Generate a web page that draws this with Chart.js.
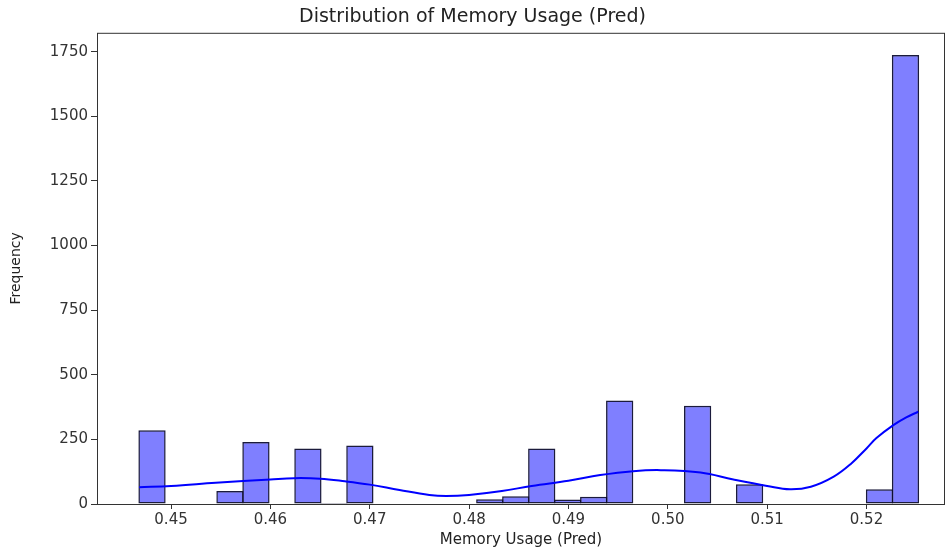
<!DOCTYPE html>
<html>
<head>
<meta charset="utf-8">
<script src="https://cdn.jsdelivr.net/npm/chart.js@4/dist/chart.umd.min.js"></script>
<style>
  html, body { margin: 0; padding: 0; background: #fff; }
  #wrap { width: 947px; height: 551px; }
</style>
</head>
<body>
<div id="wrap"><canvas id="chart"></canvas></div>
<script>
// histogram bins (30 bins)
const binStart = 0.44678;
const binWidth = 0.002615;
const counts = [285, 0, 0, 50, 240, 0, 215, 4, 226, 0, 0, 0, 0, 18, 30, 215, 17, 28, 400, 0, 0, 380, 0, 76, 0, 0, 0, 0, 57, 1737];

// kde curve (scaled to counts)
const kdeX = [0.4468, 0.45, 0.4545, 0.46, 0.4624, 0.465, 0.4675, 0.47, 0.473, 0.476, 0.4777, 0.48, 0.4833, 0.4863,
  0.49, 0.4932, 0.4965, 0.4993, 0.5033, 0.5066, 0.51, 0.5123, 0.5144, 0.5167, 0.5185, 0.52, 0.521, 0.5227, 0.524, 0.5252];
const kdeY = [65, 70, 82, 95, 100, 98, 88, 75, 54, 35, 31, 35, 50, 70,
  90, 112, 127, 131, 122, 95, 70, 57, 67, 106, 158, 215, 255, 305, 335, 357];

const xTicks = [0.45, 0.46, 0.47, 0.48, 0.49, 0.50, 0.51, 0.52];
const yTicks = [0, 250, 500, 750, 1000, 1250, 1500, 1750];

const font = "'DejaVu Sans', sans-serif";

const frame = {
  id: 'frame',
  afterDatasetsDraw(chart) {
    const { ctx, chartArea: a } = chart;
    ctx.save();
    ctx.strokeStyle = '#333';
    ctx.lineWidth = 1;
    ctx.strokeRect(a.left + 0.5, a.top + 0.5, a.right - a.left - 1, a.bottom - a.top);
    ctx.restore();
  }
};

new Chart(document.getElementById('chart'), {
  type: 'bar',
  data: {
    datasets: [
      {
        type: 'line',
        data: kdeX.map((x, i) => ({ x, y: kdeY[i] })),
        borderColor: '#0000ff',
        borderWidth: 2,
        pointRadius: 0,
        tension: 0.4,
        order: 0
      },
      {
        type: 'bar',
        data: counts.map((c, i) => ({ x: binStart + binWidth * (i + 0.5), y: c })),
        backgroundColor: 'rgba(0, 0, 255, 0.5)',
        borderColor: 'rgba(15, 15, 50, 0.95)',
        borderWidth: 1.5,
        borderSkipped: false,
        barPercentage: 1.05,
        categoryPercentage: 1,
        order: 1
      }
    ]
  },
  options: {
    responsive: true,
    maintainAspectRatio: false,
    animation: false,
    layout: { padding: { left: 0, right: 2, top: 0, bottom: 0 } },
    plugins: {
      legend: { display: false },
      tooltip: { enabled: false },
      title: {
        display: true,
        text: 'Distribution of Memory Usage (Pred)',
        color: '#222',
        font: { family: font, size: 19, weight: 'normal' },
        padding: { top: 6, bottom: 4 }
      }
    },
    scales: {
      x: {
        type: 'linear',
        offset: false,
        min: 0.44255,
        max: 0.5279,
        afterBuildTicks: (s) => { s.ticks = xTicks.map((v) => ({ value: v })); },
        afterFit: (s) => { s.height = 47; },
        grid: { display: true, drawOnChartArea: false, offset: false, tickLength: 5, tickColor: '#333' },
        border: { display: false },
        ticks: {
          color: '#333',
          padding: 2,
          maxRotation: 0,
          font: { family: font, size: 15 },
          callback: (v) => v.toFixed(2)
        },
        title: {
          display: true,
          text: 'Memory Usage (Pred)',
          color: '#222',
          font: { family: font, size: 15 },
          padding: { top: 0, bottom: 2 }
        }
      },
      y: {
        min: 0,
        max: 1823,
        afterBuildTicks: (s) => { s.ticks = yTicks.map((v) => ({ value: v })); },
        afterFit: (s) => { s.width = 97; },
        grid: { display: true, drawOnChartArea: false, tickLength: 6, tickColor: '#333' },
        border: { display: false },
        ticks: {
          color: '#333',
          padding: 3,
          font: { family: font, size: 15 },
          callback: (v) => String(v)
        },
        title: {
          display: true,
          text: 'Frequency',
          color: '#222',
          font: { family: font, size: 14 },
          padding: { top: 8, bottom: 0 }
        }
      }
    }
  },
  plugins: [frame]
});
</script>
</body>
</html>
